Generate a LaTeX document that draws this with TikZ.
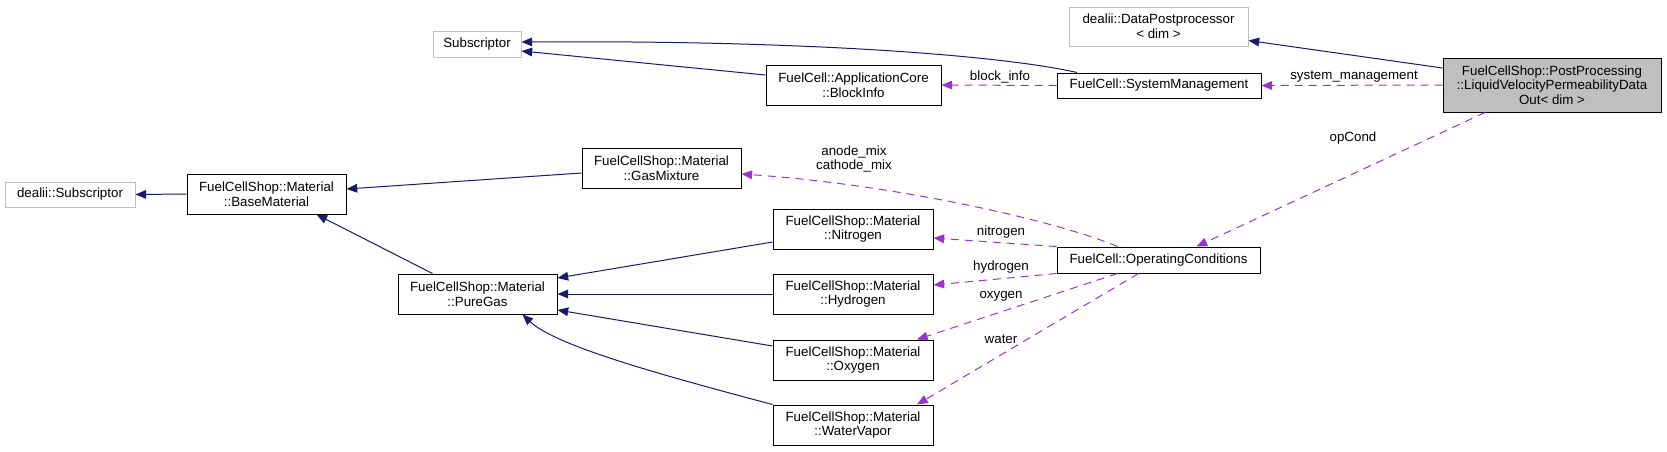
\documentclass[tikz,border=0pt]{standalone}
\usepackage{fontspec}
\setmainfont{Liberation Sans}
\usetikzlibrary{arrows.meta}
\definecolor{inhBlue}{HTML}{191970}
\definecolor{useViolet}{HTML}{9A32CD}
\definecolor{extGray}{HTML}{BFBFBF}

\begin{document}
\begin{tikzpicture}[x=0.75pt,y=-0.75pt,
    every node/.style={font=\fontsize{10}{11}\selectfont, align=center},
    cls/.style={rectangle, draw=black, line width=0.75pt, inner sep=1pt},
    ext/.style={cls, draw=extGray},
    inh/.style={draw=inhBlue, line width=0.75pt, -{Triangle[length=8pt,width=6.5pt]}},
    usedby/.style={draw=useViolet, line width=0.75pt, dash pattern=on 6pt off 4.5pt,
                   -{Triangle[length=8pt,width=6.5pt]}},
    lbl/.style={inner sep=0pt}]
    \def\pxl{0.75pt}
    \useasboundingbox (0,0) rectangle (1667,451);

    % classes
    \node[ext, minimum width=88*\pxl, minimum height=26*\pxl] (sub) at (477,44) {Subscriptor};
    \node[ext, minimum width=130*\pxl, minimum height=25*\pxl] (dsub) at (70,194.5) {dealii::Subscriptor};
    \node[cls, minimum width=159*\pxl, minimum height=40*\pxl] (baseMat) at (266.5,194)
      {FuelCellShop::Material\\::BaseMaterial};
    \node[cls, minimum width=159*\pxl, minimum height=40*\pxl] (pureGas) at (477.5,294)
      {FuelCellShop::Material\\::PureGas};
    \node[cls, minimum width=159*\pxl, minimum height=40*\pxl] (gasMix) at (661.5,168)
      {FuelCellShop::Material\\::GasMixture};
    \node[cls, minimum width=175*\pxl, minimum height=40*\pxl] (blockInfo) at (853.5,85)
      {FuelCell::ApplicationCore\\::BlockInfo};
    \foreach \nm/\txt/\y in {nitrogen/Nitrogen/229, hydrogen/Hydrogen/294,
                             oxygen/Oxygen/360, waterVapor/WaterVapor/425} {
      \node[cls, minimum width=160*\pxl, minimum height=40*\pxl] (\nm) at (853,\y)
        {FuelCellShop::Material\\::\txt};
    }
    \node[ext, minimum width=179*\pxl, minimum height=39*\pxl] (dataPost) at (1158.5,26.5)
      {dealii::DataPostprocessor\\< dim >};
    \node[cls, minimum width=204*\pxl, minimum height=25*\pxl] (sysMgmt) at (1159,85.5)
      {FuelCell::SystemManagement};
    \node[cls, minimum width=203*\pxl, minimum height=26*\pxl] (opCond) at (1158.5,260)
      {FuelCell::OperatingConditions};
    \node[cls, fill=extGray, minimum width=218*\pxl, minimum height=54*\pxl] (postProc) at (1552,85)
      {FuelCellShop::PostProcessing\\::LiquidVelocityPermeabilityData\\Out< dim >};

    % inheritance
    \draw[inh] ([xshift=-82*\pxl]sysMgmt.north) .. controls (1000,55) and (800,40) .. ([yshift=2*\pxl]sub.east);
    \draw[inh] ([yshift=10*\pxl]blockInfo.west) -- ([yshift=-7*\pxl]sub.east);
    \draw[inh] ([yshift=17*\pxl]postProc.west) -- ([yshift=-14*\pxl]dataPost.east);
    \draw[inh] (baseMat.west) -- (dsub.east);
    \draw[inh] ([yshift=-5*\pxl]gasMix.west) -- ([yshift=5*\pxl]baseMat.east);
    \draw[inh] ([xshift=-45*\pxl]pureGas.north) -- ([xshift=50*\pxl]baseMat.south);
    \draw[inh] ([yshift=-13*\pxl]nitrogen.west) -- ([yshift=16*\pxl]pureGas.east);
    \draw[inh] (hydrogen.west) -- (pureGas.east);
    \draw[inh] ([yshift=14*\pxl]oxygen.west) -- ([yshift=-16*\pxl]pureGas.east);
    \draw[inh] (waterVapor.north west) .. controls (650,372) and (555,345) .. ([xshift=45*\pxl]pureGas.south);

    % usage
    \draw[usedby] (postProc.west) -- (sysMgmt.east);
    \draw[usedby] (sysMgmt.west) -- (blockInfo.east);
    \draw[usedby] ([xshift=-67*\pxl]postProc.south) -- ([xshift=38*\pxl]opCond.north);
    \draw[usedby] ([xshift=-41*\pxl]opCond.north) .. controls (1060,222) and (900,185) .. ([yshift=-6*\pxl]gasMix.east);
    \draw[usedby] (opCond.north west) -- ([yshift=-9*\pxl]nitrogen.east);
    \draw[usedby] (opCond.south west) -- ([yshift=9*\pxl]hydrogen.east);
    \draw[usedby] ([xshift=-41*\pxl]opCond.south) -- ([xshift=64*\pxl]oxygen.north);
    \draw[usedby] ([xshift=-20*\pxl]opCond.south) -- ([xshift=64*\pxl]waterVapor.north);

    % labels
    \node[lbl] (lblBlock) at (1000,77) {block\_info};
    \node[lbl] (lblSys) at (1354,77) {system\_management};
    \node[lbl] (lblOp) at (1353,138) {opCond};
    \node[lbl] (lblMix) at (854,159) {anode\_mix\\cathode\_mix};
    \node[lbl] (lblN) at (1001,232) {nitrogen};
    \node[lbl] (lblH) at (1001,267) {hydrogen};
    \node[lbl] (lblO) at (1001,296) {oxygen};
    \node[lbl] (lblW) at (1001,339) {water};
\end{tikzpicture}
\end{document}
